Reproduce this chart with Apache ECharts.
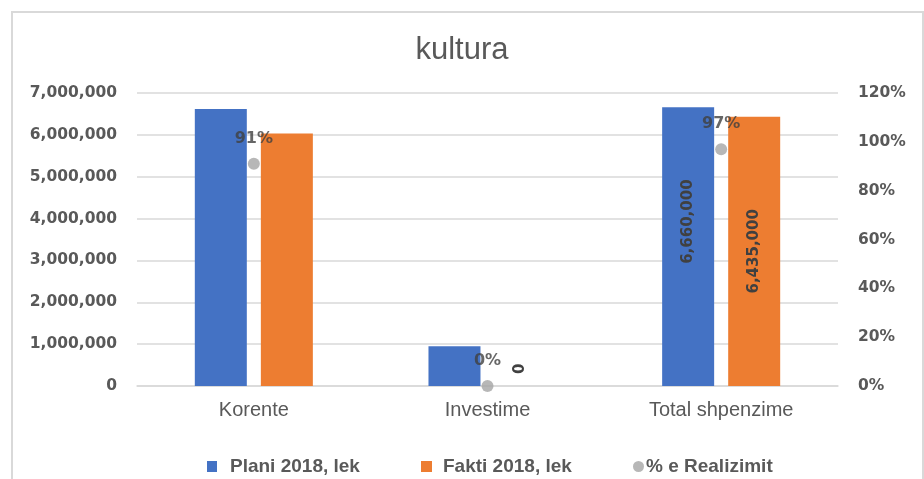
<!DOCTYPE html>
<html>
<head>
<meta charset="utf-8">
<title>kultura</title>
<script src="https://cdn.jsdelivr.net/npm/echarts@6/dist/echarts.min.js"></script>
<style>
  html, body { margin: 0; padding: 0; background: #fff; }
  #chart { width: 924px; height: 479px; }
</style>
</head>
<body>
<div id="chart"></div>
<script>
// values
var categories = ['Korente', 'Investime', 'Total shpenzime'];
var plani = [6620000, 950000, 6660000];
var fakti = [6030000, 0, 6435000];
var realizimi = [91, 0, 97];   // % e Realizimit

var leftTicks = { min: 0, max: 7000000, interval: 1000000 };
var rightTicks = { min: 0, max: 120, interval: 20 };

var grey = '#595959';
var dark = '#404040';

function fmt(v) {
    return Number(v).toLocaleString('en-US');
}

// only some bars carry a label in the original
// (offset is in the rotated frame: +x moves the text up)
var planiData = plani.map(function (v, i) {
    if (i === 2) {
        return { value: v, label: { show: true, position: 'inside', rotate: 90, offset: [25, 0] } };
    }
    return v;
});
var faktiData = fakti.map(function (v, i) {
    if (i === 2) {
        return { value: v, label: { show: true, position: 'inside', rotate: 90 } };
    }
    if (i === 1) {
        return { value: v, label: { show: true, position: 'top', rotate: 90, align: 'left', verticalAlign: 'middle', distance: 12 } };
    }
    return v;
});

var barLabel = {
    show: false,
    formatter: function (p) { return fmt(p.value); },
    fontFamily: 'DejaVu Sans',
    fontWeight: 'bold',
    fontSize: 15,
    color: dark
};

var legendText = {
    fontFamily: 'Liberation Sans',
    fontWeight: 'bold',
    fontSize: 19,
    color: grey
};

var chart = echarts.init(document.getElementById('chart'));

chart.setOption({
    animation: false,
    backgroundColor: '#fff',
    graphic: [{
        type: 'rect',
        shape: { x: 12, y: 12, width: 911, height: 500 },
        style: { fill: 'none', stroke: '#D9D9D9', lineWidth: 2 },
        silent: true
    }],
    title: {
        text: 'kultura',
        left: 'center',
        top: 30,
        textStyle: {
            fontFamily: 'Liberation Sans',
            fontWeight: 'normal',
            fontSize: 31,
            color: grey
        }
    },
    legend: [
        {
            data: ['Plani 2018, lek'],
            left: 202, top: 452,
            icon: 'rect', itemWidth: 10, itemHeight: 11,
            textStyle: Object.assign({ padding: [0, 0, 0, 8] }, legendText)
        },
        {
            data: ['Fakti 2018, lek'],
            left: 416, top: 452,
            icon: 'rect', itemWidth: 11, itemHeight: 11,
            textStyle: Object.assign({ padding: [0, 0, 0, 6] }, legendText)
        },
        {
            data: ['% e Realizimit'],
            left: 628, top: 452,
            icon: 'circle', itemWidth: 11, itemHeight: 11,
            textStyle: Object.assign({ padding: [0, 0, 0, -3] }, legendText)
        }
    ],
    grid: { left: 137, right: 86, top: 93, bottom: 93 },
    xAxis: {
        type: 'category',
        data: categories,
        axisTick: { show: false },
        axisLine: { lineStyle: { color: '#D9D9D9', width: 1.5 } },
        axisLabel: {
            margin: 14,
            fontFamily: 'Liberation Sans',
            fontSize: 20,
            color: grey
        }
    },
    yAxis: [
        {
            type: 'value',
            min: leftTicks.min,
            max: leftTicks.max,
            interval: leftTicks.interval,
            axisLine: { show: false },
            axisTick: { show: false },
            splitLine: { lineStyle: { color: '#D9D9D9', width: 1.5 } },
            axisLabel: {
                margin: 20,
                formatter: fmt,
                fontFamily: 'DejaVu Sans',
                fontWeight: 'bold',
                fontSize: 15.5,
                color: grey
            }
        },
        {
            type: 'value',
            min: rightTicks.min,
            max: rightTicks.max,
            interval: rightTicks.interval,
            axisLine: { show: false },
            axisTick: { show: false },
            splitLine: { show: false },
            axisLabel: {
                margin: 20,
                formatter: '{value}%',
                fontFamily: 'DejaVu Sans',
                fontWeight: 'bold',
                fontSize: 15.5,
                color: grey
            }
        }
    ],
    series: [
        {
            name: 'Plani 2018, lek',
            type: 'bar',
            barWidth: 52,
            barGap: '27%',
            itemStyle: { color: '#4472C4' },
            label: barLabel,
            data: planiData
        },
        {
            name: 'Fakti 2018, lek',
            type: 'bar',
            barWidth: 52,
            itemStyle: { color: '#ED7D31' },
            label: barLabel,
            data: faktiData
        },
        {
            name: '% e Realizimit',
            type: 'scatter',
            yAxisIndex: 1,
            symbol: 'circle',
            symbolSize: 12,
            itemStyle: { color: '#A5A5A5' },
            label: {
                show: true,
                position: 'top',
                distance: 11,
                formatter: '{c}%',
                fontFamily: 'DejaVu Sans',
                fontWeight: 'bold',
                fontSize: 16,
                color: dark
            },
            data: realizimi
        }
    ]
});
</script>
</body>
</html>
